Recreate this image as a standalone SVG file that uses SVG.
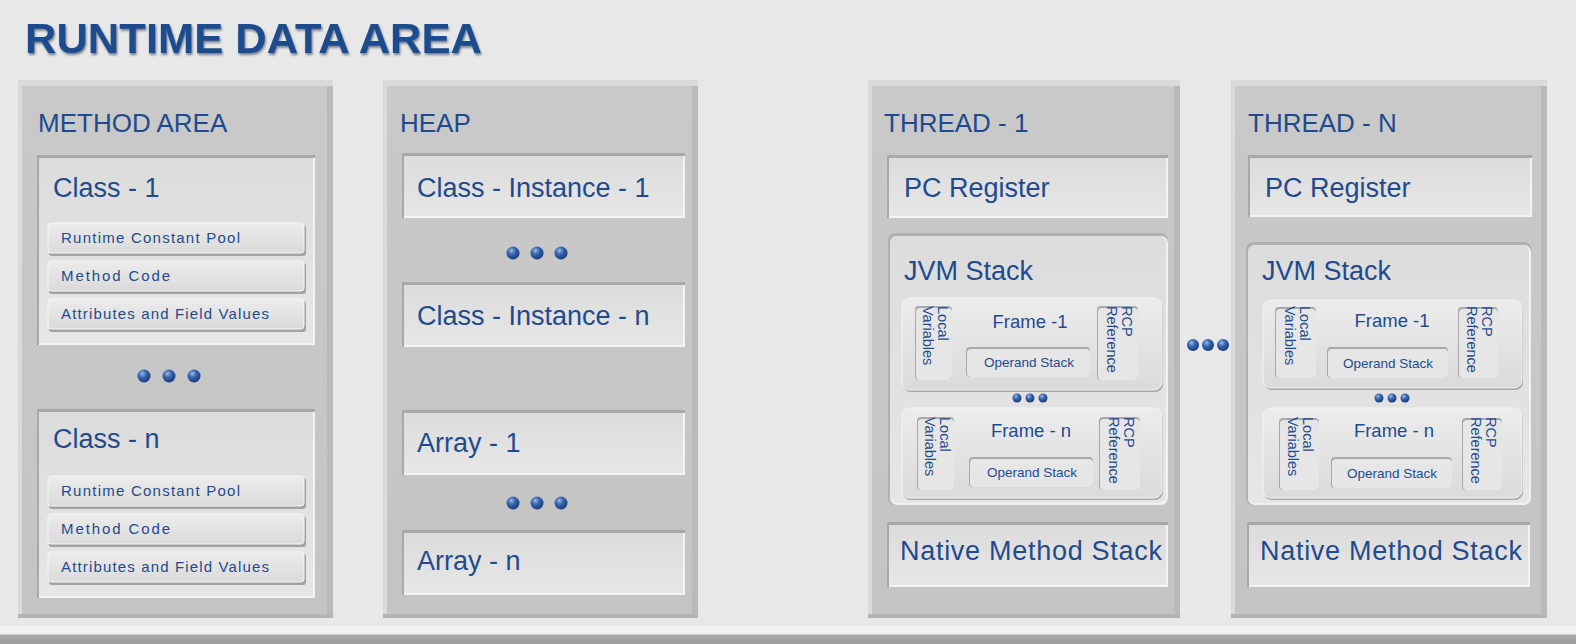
<svg xmlns="http://www.w3.org/2000/svg" width="1576" height="644" viewBox="0 0 1576 644">
<defs>
  <radialGradient id="ball" cx="0.38" cy="0.32" r="0.7">
    <stop offset="0" stop-color="#9ab8e6"/>
    <stop offset="0.45" stop-color="#3563ad"/>
    <stop offset="1" stop-color="#163b7c"/>
  </radialGradient>
  <linearGradient id="gPanel" x1="0" y1="0" x2="0" y2="1">
    <stop offset="0" stop-color="#c9c9c9"/>
    <stop offset="1" stop-color="#c4c4c4"/>
  </linearGradient>
  <linearGradient id="gInset" x1="0" y1="0" x2="0" y2="1">
    <stop offset="0" stop-color="#dcdcdc"/>
    <stop offset="1" stop-color="#e6e6e6"/>
  </linearGradient>
  <linearGradient id="gRaise" x1="0" y1="0" x2="0" y2="1">
    <stop offset="0" stop-color="#ececec"/>
    <stop offset="1" stop-color="#dadada"/>
  </linearGradient>
  <linearGradient id="gBottom" x1="0" y1="0" x2="0" y2="1">
    <stop offset="0" stop-color="#f1f1f1"/>
    <stop offset="0.45" stop-color="#f1f1f1"/>
    <stop offset="0.5" stop-color="#a9a9a9"/>
    <stop offset="1" stop-color="#9d9d9d"/>
  </linearGradient>
  <filter id="tshadow" x="-5%" y="-20%" width="110%" height="150%">
    <feDropShadow dx="1" dy="2" stdDeviation="0.8" flood-color="#0b2550" flood-opacity="0.55"/>
  </filter>
</defs>
<style>
  .t{font-family:"Liberation Sans","Arial",sans-serif;fill:#1f4b8e}
  .big{font-size:27px}
  .ptitle{font-size:26px}
  .sm{font-size:15px}
  .fr{font-size:18.5px;text-anchor:middle}
  .os{font-size:13.5px;text-anchor:middle}
  .rot{font-size:14.5px}
  .pHi{fill:#dadada}
  .pBody{fill:url(#gPanel)}
  .pDark{fill:#b9b9b9}
  .inD{fill:#a8a8a8}
  .inL{fill:#f3f3f3}
  .inF{fill:url(#gInset)}
  .rsh{fill:#a2a2a2}
  .rb{fill:url(#gRaise);stroke:#f6f6f6;stroke-width:1}
  .dot{fill:url(#ball)}
</style>

<rect x="0" y="0" width="1576" height="644" fill="#e8e8e8"/>
<rect x="0" y="626" width="1576" height="18" fill="url(#gBottom)"/>

<text id="title" x="25" y="53" class="t" font-weight="bold" font-size="43" textLength="457" lengthAdjust="spacingAndGlyphs" fill="#1d4a90" filter="url(#tshadow)">RUNTIME DATA AREA</text>

<!-- METHOD AREA -->
<g id="method-area">
  <rect class="pHi" x="18" y="80" width="315" height="538"/>
  <rect class="pBody" x="22" y="86" width="311" height="529"/>
  <rect class="pDark" x="327" y="86" width="6" height="529"/>
  <rect x="18" y="614" width="315" height="4" fill="#b4b4b4"/>
  <text class="t ptitle" x="38" y="132">METHOD AREA</text>

  <g id="class-1">
    <rect class="inD" x="37" y="155" width="278" height="190"/>
    <rect class="inL" x="39" y="158" width="276" height="187"/>
    <rect class="inF" x="39" y="158" width="274" height="185"/>
    <text class="t big" x="53" y="197">Class - 1</text>
    <g id="c1-rcp">
      <rect class="rsh" x="49" y="225" width="257" height="31" rx="3"/>
      <rect class="rb" x="48" y="223" width="256" height="30" rx="3"/>
      <text class="t sm" x="61" y="243" textLength="179">Runtime Constant Pool</text>
    </g>
    <g id="c1-mc">
      <rect class="rsh" x="49" y="263" width="257" height="31" rx="3"/>
      <rect class="rb" x="48" y="261" width="256" height="30" rx="3"/>
      <text class="t sm" x="61" y="281" textLength="109">Method Code</text>
    </g>
    <g id="c1-af">
      <rect class="rsh" x="49" y="301" width="257" height="31" rx="3"/>
      <rect class="rb" x="48" y="299" width="256" height="30" rx="3"/>
      <text class="t sm" x="61" y="319" textLength="208">Attributes and Field Values</text>
    </g>
  </g>

  <g id="method-dots">
    <circle class="dot" cx="144" cy="376" r="6.5"/>
    <circle class="dot" cx="169" cy="376" r="6.5"/>
    <circle class="dot" cx="194" cy="376" r="6.5"/>
  </g>

  <g id="class-n">
    <rect class="inD" x="37" y="409" width="278" height="189"/>
    <rect class="inL" x="39" y="412" width="276" height="186"/>
    <rect class="inF" x="39" y="412" width="274" height="184"/>
    <text class="t big" x="53" y="448">Class - n</text>
    <g id="cn-rcp">
      <rect class="rsh" x="49" y="478" width="257" height="31" rx="3"/>
      <rect class="rb" x="48" y="476" width="256" height="30" rx="3"/>
      <text class="t sm" x="61" y="496" textLength="179">Runtime Constant Pool</text>
    </g>
    <g id="cn-mc">
      <rect class="rsh" x="49" y="516" width="257" height="31" rx="3"/>
      <rect class="rb" x="48" y="514" width="256" height="30" rx="3"/>
      <text class="t sm" x="61" y="534" textLength="109">Method Code</text>
    </g>
    <g id="cn-af">
      <rect class="rsh" x="49" y="554" width="257" height="31" rx="3"/>
      <rect class="rb" x="48" y="552" width="256" height="30" rx="3"/>
      <text class="t sm" x="61" y="572" textLength="208">Attributes and Field Values</text>
    </g>
  </g>
</g>

<!-- HEAP -->
<g id="heap">
  <rect class="pHi" x="383" y="80" width="315" height="538"/>
  <rect class="pBody" x="387" y="86" width="311" height="529"/>
  <rect class="pDark" x="692" y="86" width="6" height="529"/>
  <rect x="383" y="614" width="315" height="4" fill="#b4b4b4"/>
  <text class="t ptitle" x="400" y="132">HEAP</text>

  <g id="instance-1">
    <rect class="inD" x="402" y="153" width="283" height="65"/>
    <rect class="inL" x="404" y="156" width="281" height="62"/>
    <rect class="inF" x="404" y="156" width="279" height="60"/>
    <text class="t big" x="417" y="197">Class - Instance - 1</text>
  </g>
  <g id="heap-dots-1">
    <circle class="dot" cx="513" cy="253" r="6.5"/>
    <circle class="dot" cx="537" cy="253" r="6.5"/>
    <circle class="dot" cx="561" cy="253" r="6.5"/>
  </g>
  <g id="instance-n">
    <rect class="inD" x="402" y="282" width="283" height="65"/>
    <rect class="inL" x="404" y="285" width="281" height="62"/>
    <rect class="inF" x="404" y="285" width="279" height="60"/>
    <text class="t big" x="417" y="325">Class - Instance - n</text>
  </g>
  <g id="array-1">
    <rect class="inD" x="402" y="410" width="283" height="65"/>
    <rect class="inL" x="404" y="413" width="281" height="62"/>
    <rect class="inF" x="404" y="413" width="279" height="60"/>
    <text class="t big" x="417" y="452">Array - 1</text>
  </g>
  <g id="heap-dots-2">
    <circle class="dot" cx="513" cy="503" r="6.5"/>
    <circle class="dot" cx="537" cy="503" r="6.5"/>
    <circle class="dot" cx="561" cy="503" r="6.5"/>
  </g>
  <g id="array-n">
    <rect class="inD" x="402" y="530" width="283" height="65"/>
    <rect class="inL" x="404" y="533" width="281" height="62"/>
    <rect class="inF" x="404" y="533" width="279" height="60"/>
    <text class="t big" x="417" y="570">Array - n</text>
  </g>
</g>

<!-- THREAD - 1 -->
<g id="thread-1">
  <rect class="pHi" x="868" y="80" width="312" height="538"/>
  <rect class="pBody" x="872" y="86" width="308" height="529"/>
  <rect class="pDark" x="1174" y="86" width="6" height="529"/>
  <rect x="868" y="614" width="312" height="4" fill="#b4b4b4"/>
  <text class="t ptitle" x="884" y="132">THREAD - 1</text>

  <g id="t1-pc">
    <rect class="inD" x="887" y="155" width="281" height="63"/>
    <rect class="inL" x="889" y="158" width="279" height="60"/>
    <rect class="inF" x="889" y="158" width="277" height="58"/>
    <text class="t big" x="904" y="197">PC Register</text>
  </g>

  <g id="t1-jvm">
    <rect x="888" y="233" width="280" height="272" rx="7" fill="#b0b0b0"/>
    <rect x="890" y="236" width="278" height="269" rx="7" fill="#f1f1f1"/>
    <rect x="890" y="236" width="276" height="267" rx="7" fill="url(#gInset)"/>
    <text class="t big" x="904" y="280">JVM Stack</text>

    <g id="t1-frame-1">
      <rect x="903" y="300" width="260" height="92" rx="8" fill="#a8a8a8"/>
      <rect x="902" y="298" width="260" height="92" rx="8" fill="url(#gRaise)" stroke="#f4f4f4"/>
      <rect class="inD" x="915" y="306" width="37" height="74" rx="4"/>
      <rect x="916" y="308" width="36" height="72" rx="4" fill="#e6e6e6"/>
      <text class="t rot" transform="translate(933.5,306) rotate(90)"><tspan x="0" y="-4">Local</tspan><tspan x="0" y="11">Variables</tspan></text>
      <rect class="inD" x="1097" y="306" width="41" height="74" rx="4"/>
      <rect x="1098" y="308" width="40" height="72" rx="4" fill="#e6e6e6"/>
      <text class="t rot" transform="translate(1117.5,306) rotate(90)"><tspan x="0" y="-4">RCP</tspan><tspan x="0" y="11">Reference</tspan></text>
      <text class="t fr" x="1030" y="328">Frame -1</text>
      <rect class="inD" x="966" y="347" width="124" height="30" rx="4"/>
      <rect x="967" y="349" width="123" height="28" rx="4" fill="#e6e6e6"/>
      <text class="t os" x="1029" y="367">Operand Stack</text>
    </g>
    <g id="t1-frame-dots">
      <circle class="dot" cx="1017" cy="398" r="4.5"/>
      <circle class="dot" cx="1030" cy="398" r="4.5"/>
      <circle class="dot" cx="1043" cy="398" r="4.5"/>
    </g>
    <g id="t1-frame-n">
      <rect x="903" y="410" width="260" height="90" rx="8" fill="#a8a8a8"/>
      <rect x="902" y="408" width="260" height="90" rx="8" fill="url(#gRaise)" stroke="#f4f4f4"/>
      <rect class="inD" x="917" y="417" width="37" height="73" rx="4"/>
      <rect x="918" y="419" width="36" height="71" rx="4" fill="#e6e6e6"/>
      <text class="t rot" transform="translate(935.5,417) rotate(90)"><tspan x="0" y="-4">Local</tspan><tspan x="0" y="11">Variables</tspan></text>
      <rect class="inD" x="1099" y="417" width="41" height="73" rx="4"/>
      <rect x="1100" y="419" width="40" height="71" rx="4" fill="#e6e6e6"/>
      <text class="t rot" transform="translate(1119.5,417) rotate(90)"><tspan x="0" y="-4">RCP</tspan><tspan x="0" y="11">Reference</tspan></text>
      <text class="t fr" x="1031" y="437">Frame - n</text>
      <rect class="inD" x="969" y="457" width="124" height="30" rx="4"/>
      <rect x="970" y="459" width="123" height="28" rx="4" fill="#e6e6e6"/>
      <text class="t os" x="1032" y="477">Operand Stack</text>
    </g>
  </g>

  <g id="t1-native">
    <rect class="inD" x="887" y="522" width="281" height="65"/>
    <rect class="inL" x="889" y="525" width="279" height="62"/>
    <rect class="inF" x="889" y="525" width="277" height="60"/>
    <text class="t big" x="900" y="560" textLength="262">Native Method Stack</text>
  </g>
</g>

<g id="thread-dots">
  <circle class="dot" cx="1193" cy="345" r="6"/>
  <circle class="dot" cx="1208" cy="345" r="6"/>
  <circle class="dot" cx="1223" cy="345" r="6"/>
</g>

<!-- THREAD - N -->
<g id="thread-n">
  <rect class="pHi" x="1231" y="80" width="316" height="538"/>
  <rect class="pBody" x="1235" y="86" width="312" height="529"/>
  <rect class="pDark" x="1541" y="86" width="6" height="529"/>
  <rect x="1231" y="614" width="316" height="4" fill="#b4b4b4"/>
  <text class="t ptitle" x="1248" y="132">THREAD - N</text>

  <g id="tn-pc">
    <rect class="inD" x="1248" y="155" width="284" height="62"/>
    <rect class="inL" x="1250" y="158" width="282" height="59"/>
    <rect class="inF" x="1250" y="158" width="280" height="57"/>
    <text class="t big" x="1265" y="197">PC Register</text>
  </g>

  <g id="tn-jvm">
    <rect x="1246" y="242" width="285" height="263" rx="7" fill="#b0b0b0"/>
    <rect x="1248" y="245" width="283" height="260" rx="7" fill="#f1f1f1"/>
    <rect x="1248" y="245" width="281" height="258" rx="7" fill="url(#gInset)"/>
    <text class="t big" x="1262" y="280">JVM Stack</text>

    <g id="tn-frame-1">
      <rect x="1264" y="302" width="259" height="88" rx="8" fill="#a8a8a8"/>
      <rect x="1263" y="300" width="259" height="88" rx="8" fill="url(#gRaise)" stroke="#f4f4f4"/>
      <rect class="inD" x="1275" y="307" width="41" height="71" rx="4"/>
      <rect x="1276" y="309" width="40" height="69" rx="4" fill="#e6e6e6"/>
      <text class="t rot" transform="translate(1295.5,306) rotate(90)"><tspan x="0" y="-4">Local</tspan><tspan x="0" y="11">Variables</tspan></text>
      <rect class="inD" x="1458" y="307" width="40" height="71" rx="4"/>
      <rect x="1459" y="309" width="39" height="69" rx="4" fill="#e6e6e6"/>
      <text class="t rot" transform="translate(1478,306) rotate(90)"><tspan x="0" y="-4">RCP</tspan><tspan x="0" y="11">Reference</tspan></text>
      <text class="t fr" x="1392" y="327">Frame -1</text>
      <rect class="inD" x="1327" y="347" width="121" height="31" rx="4"/>
      <rect x="1328" y="349" width="120" height="29" rx="4" fill="#e6e6e6"/>
      <text class="t os" x="1388" y="368">Operand Stack</text>
    </g>
    <g id="tn-frame-dots">
      <circle class="dot" cx="1379" cy="398" r="4.5"/>
      <circle class="dot" cx="1392" cy="398" r="4.5"/>
      <circle class="dot" cx="1405" cy="398" r="4.5"/>
    </g>
    <g id="tn-frame-n">
      <rect x="1264" y="410" width="259" height="90" rx="8" fill="#a8a8a8"/>
      <rect x="1263" y="408" width="259" height="90" rx="8" fill="url(#gRaise)" stroke="#f4f4f4"/>
      <rect class="inD" x="1279" y="418" width="40" height="72" rx="4"/>
      <rect x="1280" y="420" width="39" height="70" rx="4" fill="#e6e6e6"/>
      <text class="t rot" transform="translate(1299,417) rotate(90)"><tspan x="0" y="-4">Local</tspan><tspan x="0" y="11">Variables</tspan></text>
      <rect class="inD" x="1462" y="418" width="40" height="72" rx="4"/>
      <rect x="1463" y="420" width="39" height="70" rx="4" fill="#e6e6e6"/>
      <text class="t rot" transform="translate(1482,417) rotate(90)"><tspan x="0" y="-4">RCP</tspan><tspan x="0" y="11">Reference</tspan></text>
      <text class="t fr" x="1394" y="437">Frame - n</text>
      <rect class="inD" x="1331" y="457" width="121" height="31" rx="4"/>
      <rect x="1332" y="459" width="120" height="29" rx="4" fill="#e6e6e6"/>
      <text class="t os" x="1392" y="478">Operand Stack</text>
    </g>
  </g>

  <g id="tn-native">
    <rect class="inD" x="1247" y="522" width="283" height="65"/>
    <rect class="inL" x="1249" y="525" width="281" height="62"/>
    <rect class="inF" x="1249" y="525" width="279" height="60"/>
    <text class="t big" x="1260" y="560" textLength="262">Native Method Stack</text>
  </g>
</g>

<g id="connectors"></g>
</svg>
